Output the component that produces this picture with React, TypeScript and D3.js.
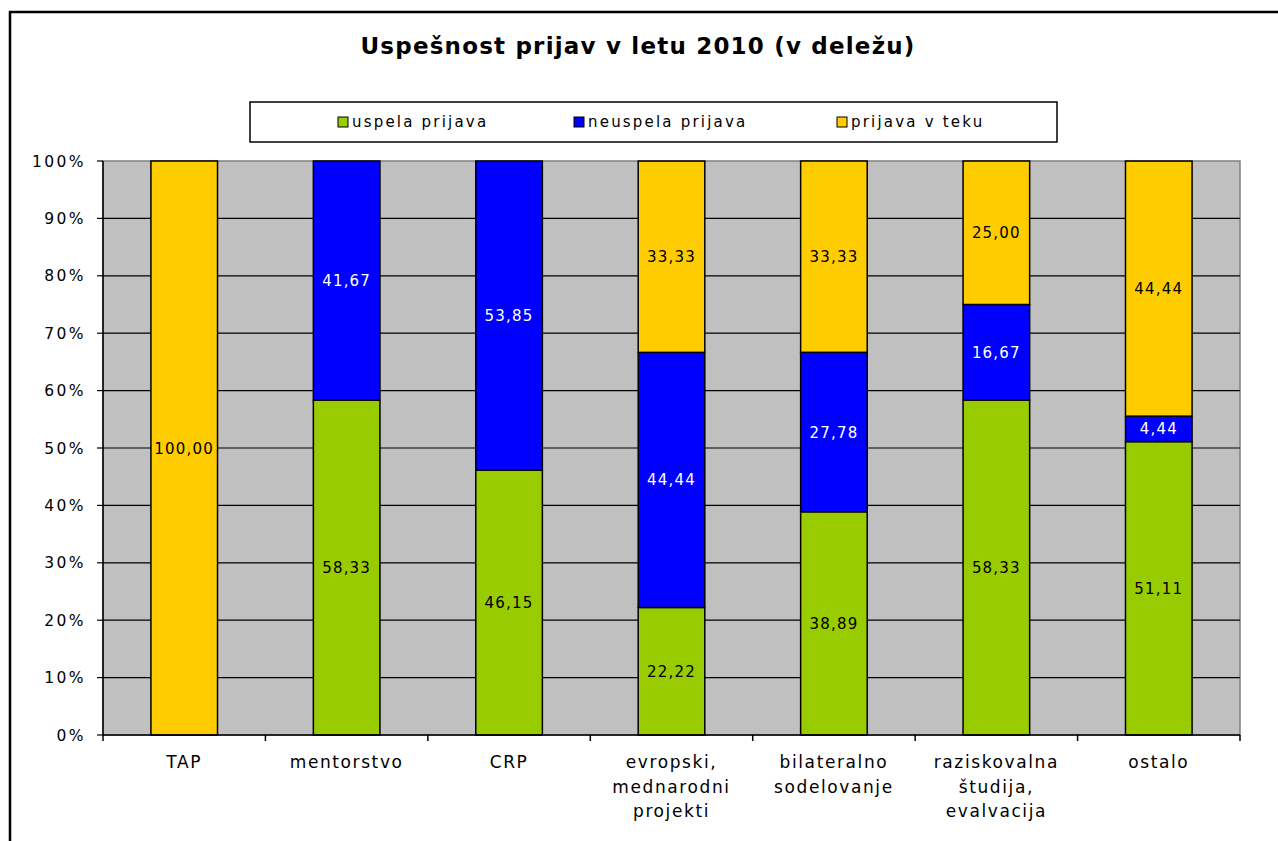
import * as d3 from "d3";

const categories = [
  ["TAP"],
  ["mentorstvo"],
  ["CRP"],
  ["evropski,", "mednarodni", "projekti"],
  ["bilateralno", "sodelovanje"],
  ["raziskovalna", "študija,", "evalvacija"],
  ["ostalo"],
];
const categoryKeys = categories.map((c) => c.join(" "));

const seriesNames = ["uspela prijava", "neuspela prijava", "prijava v teku"];
const seriesColors = ["#99CC00", "#0000FF", "#FFCC00"];
const labelColors = ["#000000", "#FFFFFF", "#000000"];

const uspela = [0, 58.33, 46.15, 22.22, 38.89, 58.33, 51.11];
const neuspela = [0, 41.67, 53.85, 44.44, 27.78, 16.67, 4.44];
const vTeku = [100, 0, 0, 33.33, 33.33, 25.0, 44.44];

const yTicks = [0, 10, 20, 30, 40, 50, 60, 70, 80, 90, 100];

const W = 1278;
const H = 841;
const left = 103;
const right = 1240;
const top = 161;
const bottom = 735;

const font = "Tahoma, 'DejaVu Sans', Verdana, sans-serif";

export default function App() {
  const rows = categoryKeys.map((k, i) => ({
    key: k,
    s0: uspela[i],
    s1: neuspela[i],
    s2: vTeku[i],
  }));
  const stack = d3.stack<any>().keys(["s0", "s1", "s2"]);
  const stacked = stack(rows);

  const x = d3.scaleBand().domain(categoryKeys).range([left, right]).padding(0);
  const y = d3.scaleLinear().domain([0, 100]).range([bottom, top]);
  const barW = x.bandwidth() * 0.41;
  const fmt = (v: number) => d3.format(".2f")(v).replace(".", ",");

  const legendX = [338, 574, 837];

  return (
    <svg
      width={W}
      height={H}
      style={{ position: "absolute", left: 0, top: 0, background: "#fff" }}
      fontFamily={font}
    >
      <rect x={10} y={12} width={W + 20} height={H + 20} fill="#fff" stroke="#000" strokeWidth={2.5} />
      <text x={638} y={54} textAnchor="middle" fontWeight="bold" fontSize={23} letterSpacing={1.2} fill="#000">
        Uspešnost prijav v letu 2010 (v deležu)
      </text>

      {/* legend */}
      <rect x={250} y={102} width={807} height={40} fill="#fff" stroke="#000" strokeWidth={1.5} />
      {seriesNames.map((n, i) => (
        <g key={n} transform={`translate(${legendX[i]},122)`}>
          <rect x={0} y={-5} width={10} height={10} fill={seriesColors[i]} stroke="#000" strokeWidth={1} />
          <text x={14} y={5} fontSize={15} letterSpacing={2.2} fill="#000">
            {n}
          </text>
        </g>
      ))}

      {/* plot area */}
      <rect x={left} y={top} width={right - left} height={bottom - top} fill="#C0C0C0" stroke="#808080" strokeWidth={1.5} />
      {yTicks.map((t) => (
        <g key={t}>
          {t > 0 && t < 100 && (
            <line x1={left} x2={right} y1={y(t)} y2={y(t)} stroke="#000" strokeWidth={1.2} />
          )}
          <line x1={97} x2={left} y1={y(t)} y2={y(t)} stroke="#000" strokeWidth={1.2} />
          <text x={86} y={y(t) + 5.5} textAnchor="end" fontSize={15.5} letterSpacing={2.4} fill="#000">
            {t}%
          </text>
        </g>
      ))}

      {/* bars */}
      {stacked.map((layer, si) =>
        layer.map((d, ci) => {
          const v = d[1] - d[0];
          if (v <= 0) return null;
          const cx = (x(categoryKeys[ci]) as number) + x.bandwidth() / 2;
          const y0 = y(d[0]);
          const y1 = y(d[1]);
          return (
            <g key={`${si}-${ci}`}>
              <rect
                x={cx - barW / 2}
                y={y1}
                width={barW}
                height={y0 - y1}
                fill={seriesColors[si]}
                stroke="#000"
                strokeWidth={1.5}
              />
              <text
                x={cx}
                y={(y0 + y1) / 2 + 5.5}
                textAnchor="middle"
                fontSize={15}
                letterSpacing={1.2}
                fill={labelColors[si]}
              >
                {fmt(v)}
              </text>
            </g>
          );
        })
      )}

      {/* axes */}
      <line x1={left} x2={left} y1={top} y2={bottom} stroke="#000" strokeWidth={1.5} />
      <line x1={left} x2={right} y1={bottom} y2={bottom} stroke="#000" strokeWidth={1.5} />
      {categoryKeys.map((k) => (
        <line key={k} x1={x(k)} x2={x(k)} y1={bottom} y2={bottom + 6} stroke="#000" strokeWidth={1.5} />
      ))}
      <line x1={right} x2={right} y1={bottom} y2={bottom + 6} stroke="#000" strokeWidth={1.5} />
      {categories.map((lines, i) => (
        <text
          key={categoryKeys[i]}
          x={(x(categoryKeys[i]) as number) + x.bandwidth() / 2}
          textAnchor="middle"
          fontSize={17}
          letterSpacing={1.6}
          fill="#000"
        >
          {lines.map((l, j) => (
            <tspan key={j} x={(x(categoryKeys[i]) as number) + x.bandwidth() / 2} y={768 + j * 24.5}>
              {l}
            </tspan>
          ))}
        </text>
      ))}
    </svg>
  );
}
